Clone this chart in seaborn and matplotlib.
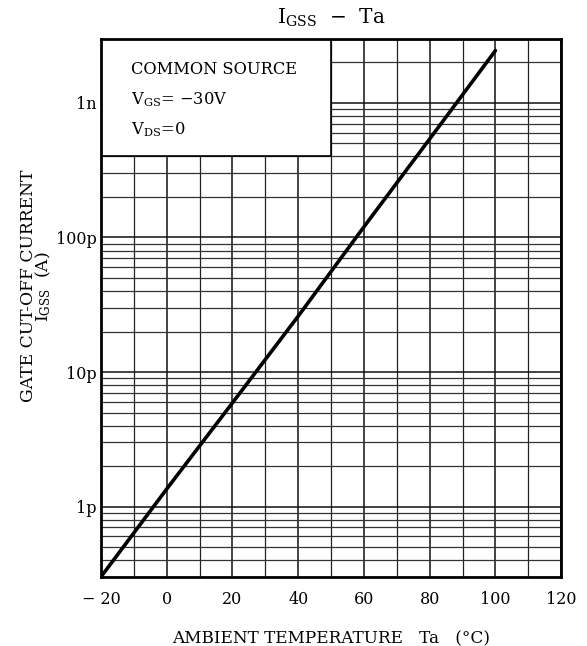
import numpy as np
import pandas as pd
import matplotlib
matplotlib.use("Agg")
import matplotlib.pyplot as plt
import seaborn as sns
from matplotlib.patches import Rectangle
from matplotlib.ticker import FixedLocator, NullFormatter

sns.set_style("white")
plt.rcParams['font.family'] = ['DejaVu Serif']
plt.rcParams['mathtext.fontset'] = 'dejavuserif'
plt.rcParams['text.color'] = 'black'
plt.rcParams['axes.labelcolor'] = 'black'
plt.rcParams['xtick.color'] = 'black'
plt.rcParams['ytick.color'] = 'black'

# data
temp_c = [-20, 0, 20, 40, 60, 80, 100]
igss_a = [0.3e-12, 1.35e-12, 5.9e-12, 26e-12, 120e-12, 540e-12, 2.45e-9]

x_ticks = [-20, 0, 20, 40, 60, 80, 100, 120]
x_tick_labels = ['\u2212 20', '0', '20', '40', '60', '80', '100', '120']
y_ticks = [1e-12, 1e-11, 1e-10, 1e-9]
y_tick_labels = ['1p', '10p', '100p', '1n']

df = pd.DataFrame({'Ta': temp_c, 'IGSS': igss_a})

fig = plt.figure(figsize=(5.87, 6.46), dpi=100)
ax = fig.add_axes([0.172, 0.107, 0.784, 0.833])

ax.set_yscale('log')
ax.set_xlim(-20, 120)
ax.set_ylim(0.3e-12, 3e-9)

# grid
minor_y = [m * 10.0 ** e for e in range(-13, -8) for m in range(2, 10)]
ax.yaxis.set_minor_locator(FixedLocator(minor_y))
ax.yaxis.set_minor_formatter(NullFormatter())
ax.set_xticks(x_ticks)
ax.set_xticklabels(x_tick_labels, fontsize=11.5)
ax.xaxis.set_minor_locator(FixedLocator(np.arange(-10, 120, 20)))
ax.set_yticks(y_ticks)
ax.set_yticklabels(y_tick_labels, fontsize=11.5)
ax.grid(True, which='major', axis='both', color='#111111', linewidth=1.1)
ax.grid(True, which='minor', axis='y', color='#333333', linewidth=0.9)
ax.grid(True, which='minor', axis='x', color='#222222', linewidth=0.9)
ax.tick_params(axis='x', which='both', length=0, pad=10)
ax.tick_params(axis='y', which='both', length=0, pad=3)
ax.set_axisbelow(True)

for s in ax.spines.values():
    s.set_linewidth(2.0)
    s.set_color('black')

sns.lineplot(data=df, x='Ta', y='IGSS', ax=ax, color='black', linewidth=2.6, zorder=3)

# condition box
box = Rectangle((-20, 0.4e-9), 70, 3e-9 - 0.4e-9, facecolor='white',
                edgecolor='black', linewidth=1.2, zorder=2.5)
ax.add_patch(box)
ax.text(-11, 1.78e-9, 'COMMON SOURCE', fontsize=11.7, va='center', zorder=4)
ax.text(-11, 1.05e-9, r'V$_{\mathrm{GS}}$= $-$30V', fontsize=11.7, va='center', zorder=4)
ax.text(-11, 0.63e-9, r'V$_{\mathrm{DS}}$=0', fontsize=11.7, va='center', zorder=4)

ax.set_xlabel('AMBIENT TEMPERATURE   Ta   (\u00b0C)', fontsize=12.2, labelpad=16)
ax.set_ylabel('GATE CUT-OFF CURRENT\n' + r'I$_{\mathrm{GSS}}$  (A)', fontsize=12.3,
              linespacing=0.72)
ax.yaxis.set_label_coords(-0.105, 0.54)
ax.set_title(r'I$_{\mathrm{GSS}}$  $-$  Ta', fontsize=14.5, pad=11)

fig.savefig('out.png', dpi=100)
